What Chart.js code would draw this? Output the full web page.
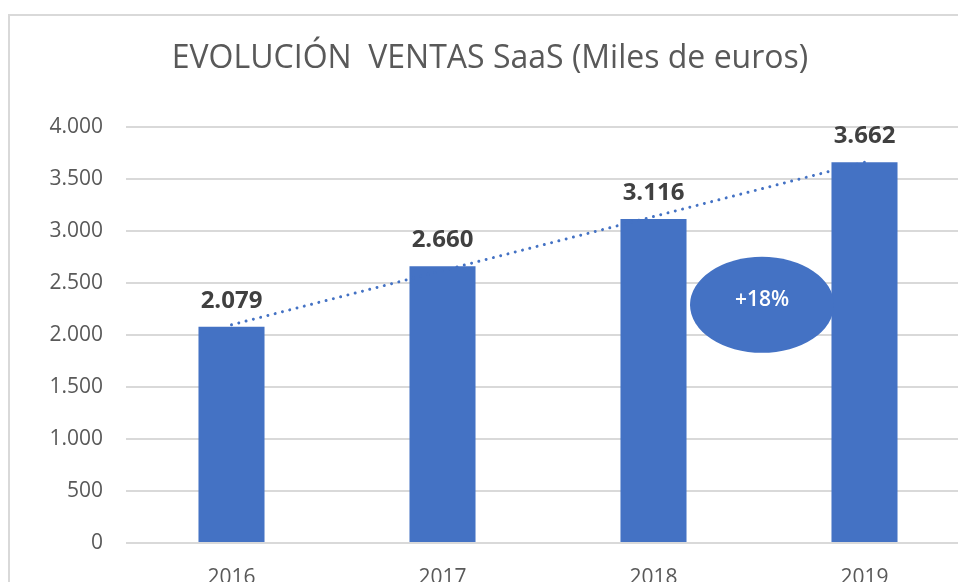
<!DOCTYPE html>
<html>
<head>
<meta charset="utf-8">
<script src="https://cdn.jsdelivr.net/npm/chart.js@4"></script>
<style>
    html, body { margin: 0; padding: 0; background: #fff; overflow: hidden; }
    #frame {
        position: absolute; left: 8px; top: 14px;
        width: 960px; height: 600px;
        border-left: 2px solid #d9d9d9; border-top: 2px solid #d9d9d9;
    }
</style>
</head>
<body>
<div id="frame"><canvas id="ventasChart"></canvas></div>
<script>
const years = ['2016', '2017', '2018', '2019'];
const ventas = [2079, 2660, 3116, 3662];
// linea de tendencia
const tendencia = [2098, 2619, 3139, 3660];
const yTickLabels = ['0', '500', '1.000', '1.500', '2.000', '2.500', '3.000', '3.500', '4.000'];
const badgeText = '+18%';

const azul = '#4472C4';
const FONT = "'Open Sans', sans-serif";

function miles(v) {
    return String(v).replace(/\B(?=(\d{3})+(?!\d))/g, '.');
}

const extras = {
    id: 'extras',
    afterDatasetsDraw(chart) {
        const ctx = chart.ctx;
        const meta = chart.getDatasetMeta(1);
        const y = chart.scales.y;
        ctx.save();
        // etiquetas de valor
        ctx.fillStyle = '#404040';
        ctx.font = 'bold 24px ' + FONT;
        ctx.textAlign = 'center';
        ctx.textBaseline = 'alphabetic';
        meta.data.forEach((bar, i) => {
            ctx.fillText(miles(ventas[i]), bar.x, bar.y - 19);
        });
        // elipse +18%
        const cx = (meta.data[2].x + meta.data[3].x) / 2 + 3;
        const cy = y.getPixelForValue(2290);
        ctx.fillStyle = azul;
        ctx.beginPath();
        ctx.ellipse(cx, cy, 72, 48, 0, 0, Math.PI * 2);
        ctx.fill();
        ctx.fillStyle = '#ffffff';
        ctx.font = '600 21px ' + FONT;
        ctx.textBaseline = 'middle';
        ctx.fillText(badgeText, cx, cy - 5);
        ctx.restore();
    }
};

const chart = new Chart(document.getElementById('ventasChart'), {
    type: 'bar',
    data: {
        labels: years,
        datasets: [{
            type: 'line',
            data: tendencia,
            borderColor: azul,
            borderWidth: 3,
            borderDash: [0.01, 7.5],
            borderCapStyle: 'round',
            pointRadius: 0,
            fill: false,
            tension: 0
        }, {
            data: ventas,
            backgroundColor: azul,
            categoryPercentage: 1,
            barPercentage: 0.313
        }]
    },
    options: {
        responsive: true,
        maintainAspectRatio: false,
        animation: false,
        layout: { padding: 0 },
        plugins: {
            legend: { display: false },
            tooltip: { enabled: false },
            title: {
                display: true,
                text: 'EVOLUCIÓN  VENTAS SaaS (Miles de euros)',
                color: '#595959',
                font: { family: FONT, size: 32, weight: 'normal', lineHeight: 1.2 },
                padding: { top: 24, bottom: 48.6 }
            }
        },
        scales: {
            x: {
                grid: { display: false },
                border: { display: false },
                ticks: { color: '#595959', font: { family: FONT, size: 21 }, padding: 14 },
                afterFit(s) { s.height = 73; }
            },
            y: {
                min: 0, max: 4000,
                grid: { color: '#d9d9d9', lineWidth: 2, drawTicks: false },
                border: { display: false },
                ticks: {
                    stepSize: 500,
                    color: '#595959',
                    font: { family: FONT, size: 21 },
                    padding: 23,
                    callback: (v, i) => yTickLabels[i]
                },
                afterFit(s) { s.width = 116; }
            }
        }
    },
    plugins: [extras]
});
</script>
</body>
</html>
